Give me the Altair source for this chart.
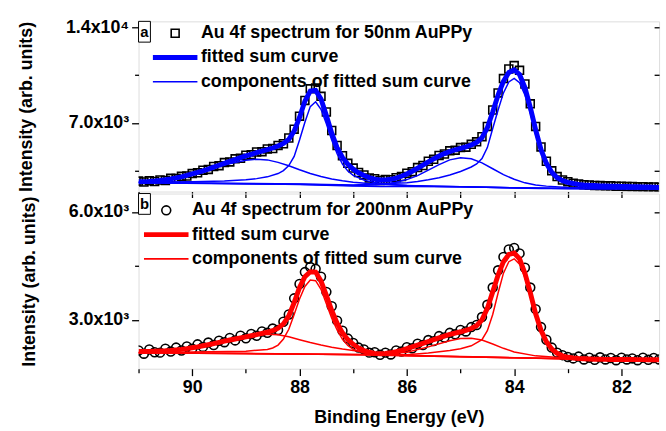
import altair as alt
import pandas as pd

FONT = "Liberation Sans"

energy = [91.0, 90.9, 90.8, 90.7, 90.6, 90.5, 90.4, 90.3, 90.2, 90.1,
          90.0, 89.9, 89.8, 89.7, 89.6, 89.5, 89.4, 89.3, 89.2, 89.1,
          89.0, 88.9, 88.8, 88.7, 88.6, 88.5, 88.4, 88.3, 88.2, 88.1,
          88.0, 87.9, 87.8, 87.7, 87.6, 87.5, 87.4, 87.3, 87.2, 87.1,
          87.0, 86.9, 86.8, 86.7, 86.6, 86.5, 86.4, 86.3, 86.2, 86.1,
          86.0, 85.9, 85.8, 85.7, 85.6, 85.5, 85.4, 85.3, 85.2, 85.1,
          85.0, 84.9, 84.8, 84.7, 84.6, 84.5, 84.4, 84.3, 84.2, 84.1,
          84.0, 83.9, 83.8, 83.7, 83.6, 83.5, 83.4, 83.3, 83.2, 83.1,
          83.0, 82.9, 82.8, 82.7, 82.6, 82.5, 82.4, 82.3, 82.2, 82.1,
          82.0, 81.9, 81.8, 81.7, 81.6, 81.5, 81.4, 81.3]

# ---- panel a (50 nm) ----
top_data = [2750, 2680, 2770, 2720, 2830, 2800, 2950, 2930, 3100, 3120,
            3300, 3350, 3540, 3600, 3820, 3880, 4100, 4150, 4380, 4420,
            4640, 4680, 4880, 4900, 5100, 5130, 5360, 5480, 5900, 6550,
            7500, 8650, 9500, 9550, 8950, 7800, 6450, 5350, 4600, 4050,
            3700, 3380, 3200, 2980, 2920, 2800, 2860, 2850, 3000, 3080,
            3320, 3440, 3740, 3890, 4200, 4340, 4630, 4730, 4960, 5010,
            5200, 5230, 5440, 5620, 6000, 6750, 7950, 9200, 10250, 10950,
            11200, 10850, 9850, 8400, 6750, 5250, 4200, 3500, 3080, 2830,
            2700, 2600, 2540, 2490, 2470, 2430, 2420, 2400, 2400, 2370,
            2380, 2350, 2360, 2330, 2340, 2310, 2320, 2300]
top_sum = [2700, 2710, 2730, 2760, 2800, 2850, 2910, 2980, 3060, 3160,
           3270, 3380, 3500, 3630, 3770, 3910, 4050, 4190, 4330, 4460,
           4590, 4710, 4830, 4940, 5050, 5170, 5310, 5500, 5800, 6400,
           7400, 8600, 9330, 9380, 8750, 7550, 6250, 5200, 4480, 3980,
           3620, 3360, 3160, 3000, 2890, 2830, 2830, 2880, 2970, 3100,
           3270, 3470, 3690, 3920, 4150, 4370, 4580, 4760, 4910, 5040,
           5150, 5260, 5390, 5580, 5920, 6650, 7800, 9050, 10050, 10700,
           10880, 10550, 9600, 8150, 6500, 5050, 4050, 3400, 3000, 2780,
           2650, 2570, 2510, 2470, 2440, 2420, 2400, 2390, 2380, 2370,
           2360, 2350, 2340, 2330, 2320, 2310, 2300, 2290]

top_base_e = [91.0, 90.0, 89.0, 88.0, 87.5, 87.0, 86.5, 86.0, 85.0, 84.5, 84.0, 83.5, 83.0, 82.0, 81.3]
top_base_v = [2620, 2600, 2560, 2500, 2440, 2390, 2360, 2350, 2330, 2300, 2250, 2210, 2200, 2190, 2180]
top_broad1_e = [91.0, 90.6, 90.2, 89.8, 89.4, 89.0, 88.8, 88.6, 88.4, 88.2, 88.0, 87.8, 87.6, 87.4,
                87.2, 87.0, 86.6, 86.0, 85.5, 85.0, 84.0, 83.0, 81.3]
top_broad1_v = [2700, 2820, 3050, 3400, 3950, 4280, 4350, 4300, 4120, 3870, 3580, 3310, 3080, 2900,
                2770, 2670, 2540, 2430, 2380, 2340, 2260, 2205, 2185]
top_peak1_e = [91.0, 90.0, 89.4, 89.0, 88.8, 88.6, 88.4, 88.3, 88.2, 88.1, 88.0, 87.9, 87.8, 87.7, 87.6,
               87.5, 87.4, 87.3, 87.2, 87.1, 87.0, 86.8, 86.6, 86.4, 86.0, 85.5, 85.0, 84.0, 83.0, 81.3]
top_peak1_v = [2680, 2700, 2760, 2850, 2930, 3060, 3300, 3520, 3880, 4550, 5750, 7050, 8200, 8550, 8000,
               6950, 5750, 4750, 4000, 3480, 3170, 2820, 2640, 2540, 2430, 2370, 2340, 2260, 2205, 2185]
top_broad2_e = [91.0, 88.0, 87.0, 86.6, 86.4, 86.2, 86.0, 85.8, 85.6, 85.4, 85.2, 85.0, 84.8, 84.6,
                84.4, 84.2, 84.0, 83.8, 83.6, 83.4, 83.0, 82.5, 82.0, 81.3]
top_broad2_v = [2630, 2510, 2420, 2460, 2530, 2660, 2860, 3150, 3550, 3950, 4300, 4460, 4380, 4080,
                3650, 3220, 2880, 2620, 2470, 2380, 2280, 2230, 2200, 2180]
top_peak2_e = [91.0, 88.0, 87.0, 86.0, 85.8, 85.6, 85.4, 85.2, 85.0, 84.8, 84.7, 84.6, 84.5, 84.4, 84.3,
               84.2, 84.1, 84.0, 83.9, 83.8, 83.7, 83.6, 83.5, 83.4, 83.3, 83.2, 83.1, 83.0, 82.8, 82.6,
               82.4, 82.0, 81.3]
top_peak2_v = [2640, 2540, 2460, 2620, 2720, 2850, 3000, 3200, 3450, 3780, 4000, 4400, 5200, 6600, 7950,
               9200, 10000, 10260, 9950, 9050, 7750, 6150, 4850, 3920, 3320, 2960, 2720, 2570, 2410, 2330,
               2280, 2230, 2190]

# ---- panel b (200 nm) ----
bot_data = [2150, 2060, 2180, 2100, 2090, 2200, 2120, 2230, 2150, 2260,
            2200, 2320, 2250, 2370, 2300, 2420, 2380, 2500, 2430, 2560,
            2490, 2610, 2560, 2680, 2640, 2760, 2720, 2950, 3150, 3600,
            4000, 4330, 4470, 4420, 4200, 3780, 3380, 2980, 2700, 2480,
            2360, 2230, 2180, 2090, 2100, 2030, 2090, 2040, 2150, 2120,
            2240, 2210, 2340, 2300, 2440, 2410, 2550, 2510, 2640, 2600,
            2720, 2680, 2800, 2860, 3080, 3420, 3900, 4380, 4750, 4960,
            5000, 4850, 4450, 3900, 3300, 2800, 2450, 2230, 2090, 2020,
            1970, 1930, 1980, 1900, 1950, 1890, 1960, 1900, 1940, 1880,
            1950, 1900, 1930, 1880, 1950, 1890, 1940, 1900]
bot_sum = [2120, 2120, 2125, 2130, 2135, 2140, 2150, 2165, 2180, 2200,
           2225, 2250, 2280, 2310, 2340, 2375, 2410, 2440, 2470, 2500,
           2530, 2560, 2590, 2625, 2660, 2700, 2770, 2890, 3110, 3480,
           3900, 4200, 4340, 4330, 4080, 3680, 3260, 2910, 2640, 2450,
           2320, 2220, 2150, 2100, 2070, 2060, 2065, 2085, 2115, 2155,
           2200, 2250, 2300, 2350, 2400, 2450, 2500, 2550, 2595, 2635,
           2670, 2710, 2760, 2840, 3000, 3320, 3780, 4250, 4620, 4820,
           4860, 4700, 4300, 3760, 3170, 2710, 2390, 2190, 2070, 2000,
           1960, 1940, 1925, 1918, 1912, 1908, 1905, 1903, 1901, 1900,
           1899, 1898, 1897, 1896, 1895, 1894, 1893, 1892]

bot_base_e = [91.0, 90.0, 89.0, 88.0, 87.0, 86.0, 85.0, 84.0, 83.0, 82.0, 81.3]
bot_base_v = [2085, 2080, 2070, 2055, 2030, 2000, 1975, 1945, 1915, 1898, 1890]
bot_broad1_e = [91.0, 90.5, 90.0, 89.5, 89.0, 88.8, 88.6, 88.4, 88.2, 88.0, 87.8, 87.6, 87.4, 87.2,
                87.0, 86.6, 86.0, 85.5, 85.0, 84.0, 83.0, 81.3]
bot_broad1_v = [2110, 2150, 2240, 2370, 2510, 2570, 2600, 2590, 2530, 2450, 2370, 2300, 2240, 2190,
                2150, 2080, 2020, 1995, 1980, 1950, 1920, 1892]
bot_peak1_e = [91.0, 89.0, 88.6, 88.5, 88.4, 88.3, 88.2, 88.1, 88.0, 87.9, 87.8, 87.7, 87.6, 87.5, 87.4,
               87.3, 87.2, 87.1, 87.0, 86.8, 86.5, 86.0, 85.0, 84.0, 83.0, 81.3]
bot_peak1_v = [2090, 2130, 2180, 2220, 2300, 2470, 2740, 3150, 3580, 3930, 4110, 4090, 3850, 3450, 3050,
               2720, 2460, 2290, 2180, 2080, 2030, 2000, 1975, 1945, 1918, 1892]
bot_broad2_e = [91.0, 87.0, 86.5, 86.0, 85.6, 85.2, 85.0, 84.8, 84.6, 84.4, 84.2, 84.0, 83.6, 83.0, 82.0, 81.3]
bot_broad2_v = [2085, 2035, 2040, 2100, 2250, 2420, 2480, 2490, 2440, 2330, 2210, 2110, 2000, 1935, 1902, 1892]
bot_peak2_e = [91.0, 87.0, 86.0, 85.6, 85.2, 85.0, 84.8, 84.6, 84.5, 84.4, 84.3, 84.2, 84.1, 84.0, 83.9,
               83.8, 83.7, 83.6, 83.5, 83.4, 83.3, 83.2, 83.0, 82.6, 82.0, 81.3]
bot_peak2_v = [2085, 2035, 2030, 2080, 2150, 2200, 2280, 2450, 2700, 3150, 3750, 4300, 4620, 4700, 4550,
               4180, 3650, 3080, 2650, 2350, 2160, 2050, 1960, 1918, 1900, 1892]

panel_labels = ["a", "b"]
series_a = ["Au 4f spectrum for 50nm AuPPy", "fitted sum curve", "components of fitted sum curve"]
series_b = ["Au 4f spectrum for 200nm AuPPy", "fitted sum curve", "components of fitted sum curve"]
x_ticks = [91, 90, 89, 88, 87, 86, 85, 84, 83, 82]

# symbol shapes (unit-square SVG paths, scaled by the symbol size)
SQUARE = "M-0.8,-0.8H0.8V0.8H-0.8Z"
CIRCLE = "M0.9,0A0.9,0.9,0,1,1,-0.9,0A0.9,0.9,0,1,1,0.9,0Z"
LINE = "M-4.5,0H4.5"


def panel(data, ssum, comps, series, color, shape, ydom, yvals, ylabexpr, ymajor,
          lab, legx, legy, laboff, height, bottom):
    pts = pd.DataFrame({"E": energy, "I": data, "series": series[0]})
    sm = pd.DataFrame({"E": energy, "I": ssum, "series": series[1]})
    rows = []
    for k, (es, vs) in enumerate(comps):
        for e, v in zip(es, vs):
            rows.append({"E": e, "I": v, "series": series[2], "comp": k})
    cp = pd.DataFrame(rows)

    xs = alt.Scale(domain=[81.3, 91.0], reverse=True, nice=False, zero=False)
    ys = alt.Scale(domain=ydom, nice=False, zero=False)
    leg = alt.Legend(title=None, orient="none", legendX=legx, legendY=legy,
                     labelFont=FONT, labelFontSize=18, labelFontWeight="bold",
                     labelColor="black", labelLimit=600, rowPadding=5.5, padding=0,
                     labelOffset=laboff, symbolSize=100,
                     symbolStrokeWidth=alt.ExprRef("datum.label === 'fitted sum curve' ? 5 : 1.6"))
    col = alt.Color("series:N", scale=alt.Scale(domain=series, range=["black", color, color]), legend=leg)
    shp = alt.Shape("series:N", scale=alt.Scale(domain=series, range=[shape, LINE, LINE]), legend=leg)

    tick_cond = {"condition": {"test": "datum.value % 2 === 0", "value": 7}, "value": 4}
    if bottom:
        xaxis = alt.Axis(values=x_ticks, labelExpr="datum.value % 2 === 0 ? datum.label : ''",
                         title="Binding Energy (eV)", tickSize=tick_cond, domain=False, grid=False,
                         labelFont=FONT, labelFontSize=18, labelFontWeight="bold", labelColor="black",
                         labelPadding=3, titleFont=FONT, titleFontSize=18, titleFontWeight="bold",
                         titleColor="black", titlePadding=12, tickColor="black", tickWidth=1.3)
    else:
        xaxis = alt.Axis(values=x_ticks, labels=False, title=None, tickSize=6, domain=False,
                         grid=False, tickColor="black", tickWidth=1.3)
    ytick = {"condition": {"test": f"datum.value === {ymajor[0]} || datum.value === {ymajor[1]}", "value": 7}, "value": 4}
    yaxis = alt.Axis(values=yvals, labelExpr=ylabexpr, title="Intensity (arb. units)",
                     tickSize=ytick, domain=False, grid=False, labelFont=FONT, labelFontSize=18,
                     labelFontWeight="bold", labelColor="black", labelPadding=3, titleFont=FONT,
                     titleFontSize=18, titleFontWeight="bold", titleColor="black", titlePadding=30,
                     tickColor="black", tickWidth=1.3)
    yaxis_r = alt.Axis(orient="right", values=yvals, labels=False, title=None, tickSize=5,
                       offset=-5, domain=False, grid=False, tickColor="black", tickWidth=1.3)

    xenc = alt.X("E:Q", scale=xs, axis=xaxis)
    p = alt.Chart(pts).mark_point(filled=False, opacity=1, clip=True, size=100, strokeWidth=1.6).encode(
        x=xenc, y=alt.Y("I:Q", scale=ys, axis=yaxis), color=col, shape=shp)
    s = alt.Chart(sm).mark_line(clip=True, strokeWidth=5).encode(
        x=xenc, y=alt.Y("I:Q", scale=ys, axis=yaxis_r), color=col)
    c = alt.Chart(cp).mark_line(clip=True, strokeWidth=1.5).encode(
        x=xenc, y=alt.Y("I:Q", scale=ys, axis=None), color=col, detail="comp:N")
    ldf = pd.DataFrame({"t": [lab]})
    box = alt.Chart(ldf).mark_rect(fill="white", stroke="black", strokeWidth=1).encode(
        x=alt.value(0), x2=alt.value(12), y=alt.value(0), y2=alt.value(21))
    txt = alt.Chart(ldf).mark_text(font=FONT, fontSize=15, fontWeight="bold", color="black",
                                   align="center", baseline="middle").encode(
        text="t:N", x=alt.value(6), y=alt.value(10.5))
    return alt.layer(p, c, s, box, txt).resolve_axis(y="independent").properties(width=526, height=height)


top = panel(top_data, top_sum,
            [(top_base_e, top_base_v), (top_broad1_e, top_broad1_v), (top_peak1_e, top_peak1_v),
             (top_broad2_e, top_broad2_v), (top_peak2_e, top_peak2_v)],
            series_a, "#0000ff", SQUARE, [1983, 14434], [3500, 7000, 10500, 14000],
            "datum.value === 14000 ? '1.4x10\u2074' : (datum.value === 7000 ? '7.0x10\u00b3' : '')",
            (7000, 14000), panel_labels[0], 28, 3, 17, 172, False)
bottom = panel(bot_data, bot_sum,
               [(bot_base_e, bot_base_v), (bot_broad1_e, bot_broad1_v), (bot_peak1_e, bot_peak1_v),
                (bot_broad2_e, bot_broad2_v), (bot_peak2_e, bot_peak2_v)],
               series_b, "#ff0000", CIRCLE, [1643, 6515], [3000, 4500, 6000],
               "datum.value === 6000 ? '6.0x10\u00b3' : (datum.value === 3000 ? '3.0x10\u00b3' : '')",
               (3000, 6000), panel_labels[1], 19, 8, 17, 177, True)

chart = alt.vconcat(top, bottom, spacing=2).resolve_scale(
    color="independent", shape="independent"
).properties(
    padding={"left": 17, "top": 15, "right": 5, "bottom": 61},
    bounds="flush",
).configure_view(stroke="black", strokeWidth=1.5).configure(background="white")

chart.save("out.html", embed_options={"renderer": "svg", "actions": False})
